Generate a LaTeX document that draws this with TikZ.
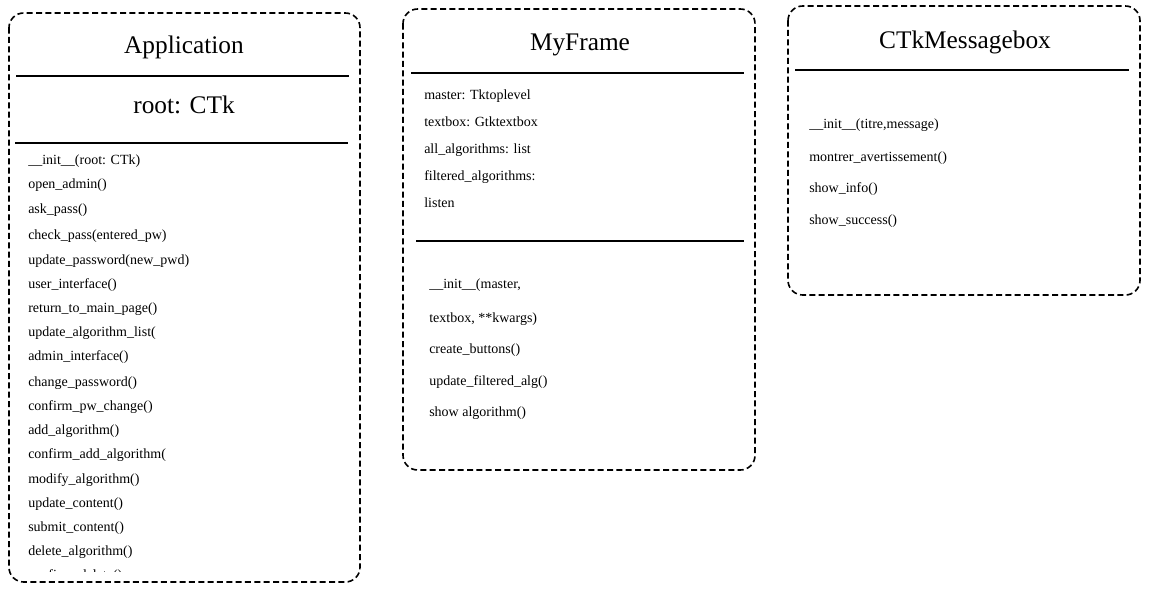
\documentclass[tikz,border=0pt]{standalone}
\usepackage{fontspec}
\setmainfont{Liberation Serif}

\begin{document}
\begin{tikzpicture}[x=0.75pt, y=-0.75pt,
  classbox/.style={draw=black, line width=1.2pt, dash pattern=on 4.5pt off 2.5pt, rounded corners=11pt},
  sepline/.style={draw=black, line width=1.5pt},
  classname/.style={font=\fontsize{19}{22}\selectfont, inner sep=0pt, text height=13pt, text depth=0pt},
  member/.style={font=\fontsize{10.5}{12}\selectfont, anchor=west, inner sep=0pt, text height=8pt, text depth=0pt}]

  \useasboundingbox (0,0) rectangle (1173,598);

  % Application
  \draw[classbox] (9,13) rectangle (360,582);
  \node[classname] (appname) at (184,45) {Application};
  \draw[sepline] (16,76) -- (349,76);
  \node[classname] (approot) at (184,105) {root: CTk};
  \draw[sepline] (15,143) -- (348,143);

  \node[member] (app1) at (28,159) {\_\_init\_\_(root: CTk)};
  \node[member] (app2) at (28,183) {open\_admin()};
  \node[member] (app3) at (28,208) {ask\_pass()};
  \node[member] (app4) at (28,234) {check\_pass(entered\_pw)};
  \node[member] (app5) at (28,259) {update\_password(new\_pwd)};
  \node[member] (app6) at (28,283) {user\_interface()};
  \node[member] (app7) at (28,307) {return\_to\_main\_page()};
  \node[member] (app8) at (28,331) {update\_algorithm\_list(};
  \node[member] (app9) at (28,355) {admin\_interface()};
  \node[member] (app10) at (28,381) {change\_password()};
  \node[member] (app11) at (28,405) {confirm\_pw\_change()};
  \node[member] (app12) at (28,429) {add\_algorithm()};
  \node[member] (app13) at (28,453) {confirm\_add\_algorithm(};
  \node[member] (app14) at (28,478) {modify\_algorithm()};
  \node[member] (app15) at (28,502) {update\_content()};
  \node[member] (app16) at (28,526) {submit\_content()};
  \node[member] (app17) at (28,550) {delete\_algorithm()};
  % last entry is cut off by the box
  \begin{scope}
    \clip (9,13) rectangle (360,571.5);
    \node[member] (app18) at (28,574) {confirm\_delete()};
  \end{scope}

  % MyFrame
  \draw[classbox] (403,9) rectangle (755,470);
  \node[classname] (framename) at (580,42) {MyFrame};
  \draw[sepline] (411,73) -- (744,73);
  \node[member] (frame1) at (424,94) {master: Tktoplevel};
  \node[member] (frame2) at (424,121) {textbox: Gtktextbox};
  \node[member] (frame3) at (424,148) {all\_algorithms: list};
  \node[member] (frame4) at (424,175) {filtered\_algorithms:};
  \node[member] (frame5) at (424,202) {listen};
  \draw[sepline] (416,241) -- (744,241);
  \node[member] (frame6) at (429,283) {\_\_init\_\_(master,};
  \node[member] (frame7) at (429,317) {textbox, **kwargs)};
  \node[member] (frame8) at (429,348) {create\_buttons()};
  \node[member] (frame9) at (429,380) {update\_filtered\_alg()};
  \node[member] (frame10) at (429,411) {show algorithm()};

  % CTkMessagebox
  \draw[classbox] (788,6) rectangle (1140,295);
  \node[classname] (msgname) at (965,40) {CTkMessagebox};
  \draw[sepline] (795,70) -- (1129,70);
  \node[member] (msg1) at (809,123) {\_\_init\_\_(titre,message)};
  \node[member] (msg2) at (809,156) {montrer\_avertissement()};
  \node[member] (msg3) at (809,187) {show\_info()};
  \node[member] (msg4) at (809,219) {show\_success()};

\end{tikzpicture}
\end{document}
